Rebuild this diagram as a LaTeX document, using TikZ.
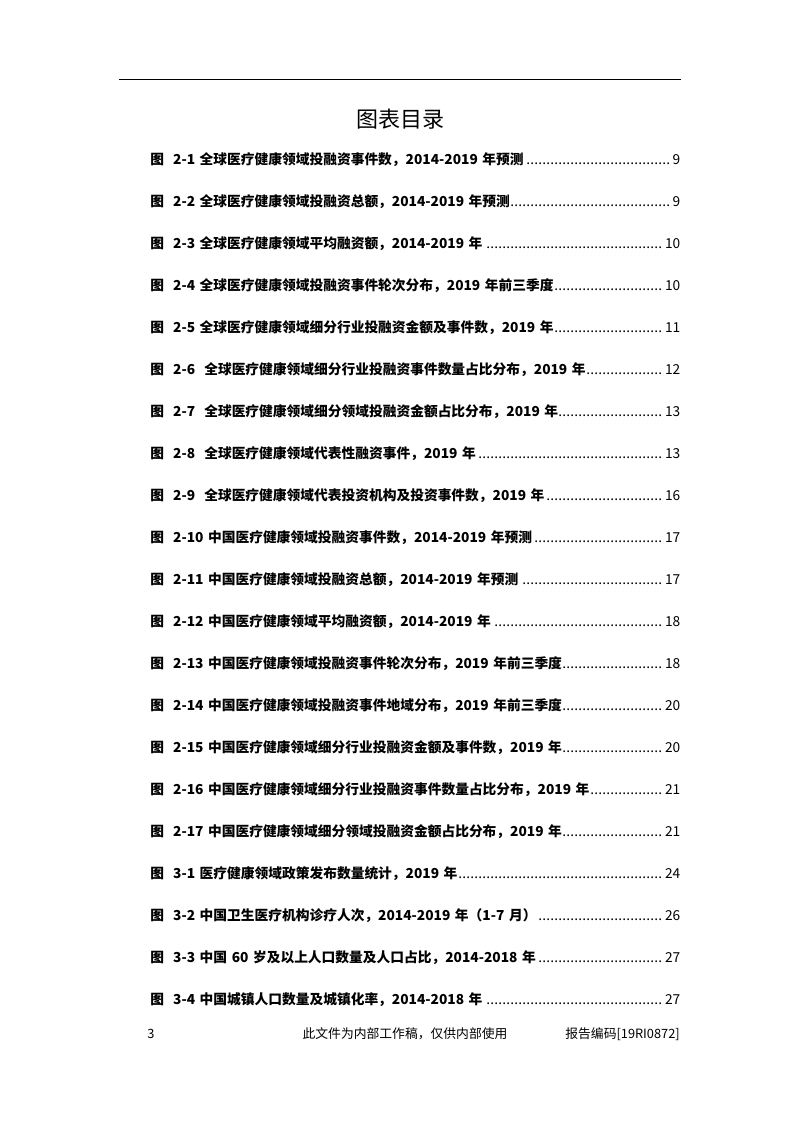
\documentclass[tikz,border=0pt]{standalone}
\usepackage{fontspec}
\setmainfont{Noto Sans CJK SC}
\begin{document}
\begin{tikzpicture}[x=0.75pt,y=-0.75pt,
  entry/.style={anchor=west,inner sep=0pt,text width=397.5pt,font=\bfseries\fontsize{10.3pt}{11pt}\selectfont},
  foot/.style={inner sep=0pt,font=\fontsize{9.6pt}{11pt}\selectfont}]
\useasboundingbox (0,0) rectangle (800,1132);
\draw[line width=0.6pt] (119,79) coordinate (la) -- (681,79) coordinate (lb);
\node[inner sep=0pt,font=\fontsize{16.5pt}{19pt}\selectfont] (title) at (400,119) {图表目录};
\foreach \t/\p [count=\i from 0] in {
{图\ \ 2-1 全球医疗健康领域投融资事件数，2014-2019 年预测}/9,
{图\ \ 2-2 全球医疗健康领域投融资总额，2014-2019 年预测}/9,
{图\ \ 2-3 全球医疗健康领域平均融资额，2014-2019 年}/10,
{图\ \ 2-4 全球医疗健康领域投融资事件轮次分布，2019 年前三季度}/10,
{图\ \ 2-5 全球医疗健康领域细分行业投融资金额及事件数，2019 年}/11,
{图\ \ 2-6\ \ 全球医疗健康领域细分行业投融资事件数量占比分布，2019 年}/12,
{图\ \ 2-7\ \ 全球医疗健康领域细分领域投融资金额占比分布，2019 年}/13,
{图\ \ 2-8\ \ 全球医疗健康领域代表性融资事件，2019 年}/13,
{图\ \ 2-9\ \ 全球医疗健康领域代表投资机构及投资事件数，2019 年}/16,
{图\ \ 2-10 中国医疗健康领域投融资事件数，2014-2019 年预测}/17,
{图\ \ 2-11 中国医疗健康领域投融资总额，2014-2019 年预测}/17,
{图\ \ 2-12 中国医疗健康领域平均融资额，2014-2019 年}/18,
{图\ \ 2-13 中国医疗健康领域投融资事件轮次分布，2019 年前三季度}/18,
{图\ \ 2-14 中国医疗健康领域投融资事件地域分布，2019 年前三季度}/20,
{图\ \ 2-15 中国医疗健康领域细分行业投融资金额及事件数，2019 年}/20,
{图\ \ 2-16 中国医疗健康领域细分行业投融资事件数量占比分布，2019 年}/21,
{图\ \ 2-17 中国医疗健康领域细分领域投融资金额占比分布，2019 年}/21,
{图\ \ 3-1 医疗健康领域政策发布数量统计，2019 年}/24,
{图\ \ 3-2 中国卫生医疗机构诊疗人次，2014-2019 年（1-7 月）}/26,
{图\ \ 3-3 中国 60 岁及以上人口数量及人口占比，2014-2018 年}/27,
{图\ \ 3-4 中国城镇人口数量及城镇化率，2014-2018 年}/27}
  \node[entry] (e\i) at (150,160+42*\i) {\t\leaders\hbox to 3pt{\hss\mdseries.\hss}\hfill\mdseries\p};
\node[foot,anchor=west] (pg) at (147,1034) {3};
\node[foot] (mid) at (405,1034) {此文件为内部工作稿，仅供内部使用};
\node[foot,anchor=east] (code) at (680,1034) {报告编码[19RI0872]};
\end{tikzpicture}
\end{document}
